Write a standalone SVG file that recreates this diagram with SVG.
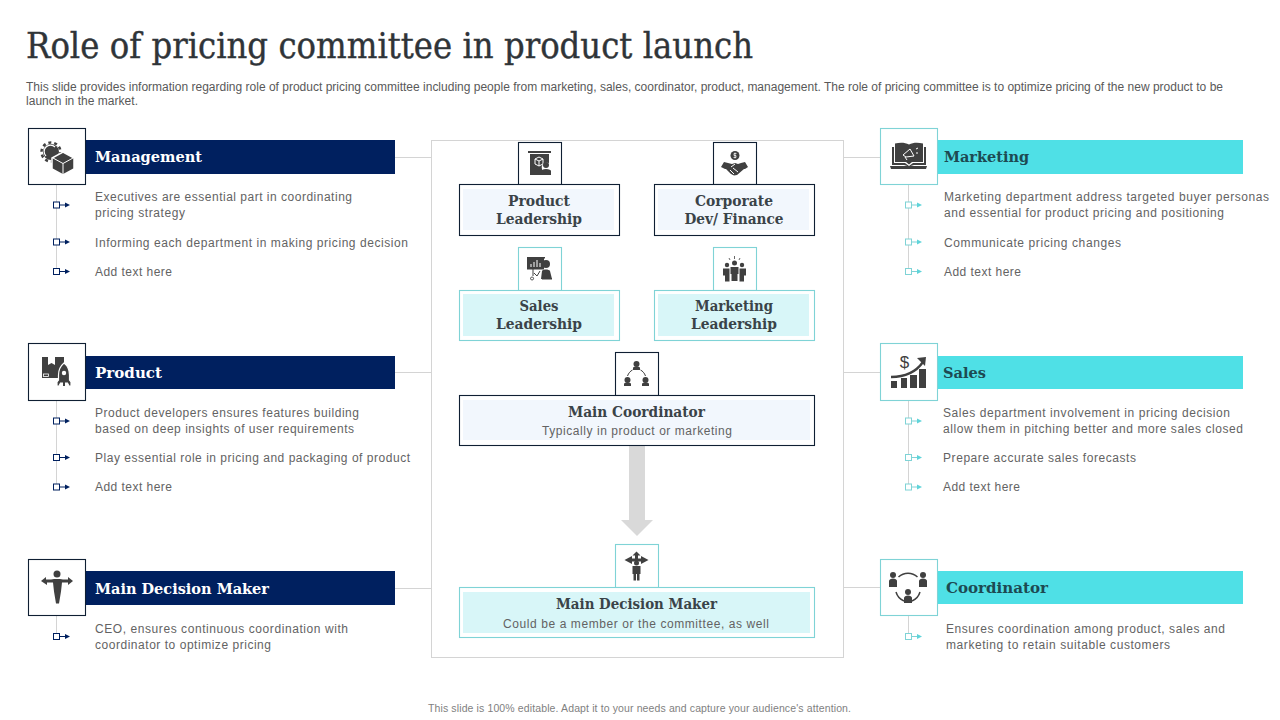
<svg xmlns="http://www.w3.org/2000/svg" xmlns:xlink="http://www.w3.org/1999/xlink" width="1280" height="720" viewBox="0 0 1280 720">
<style>
text{font-family:"Liberation Sans",Arial,sans-serif;fill:#636363;font-size:12px}
.d{fill:#595959}
.h{font-family:"DejaVu Serif","Liberation Serif",serif;font-weight:700;font-size:15px;fill:#fff}
.hc{font-family:"DejaVu Serif","Liberation Serif",serif;font-weight:700;font-size:15px;fill:#1d4a52}
.c{font-family:"DejaVu Serif","Liberation Serif",serif;font-weight:700;font-size:15px;fill:#3a4348;text-anchor:middle}
.s{text-anchor:middle}
.nb{fill:#fff;stroke:#0f1f33;stroke-width:1.1}
.tb{fill:#fff;stroke:#7fd3d6;stroke-width:1.1}
.bar{fill:#00205f}.tbar{fill:#4fe0e6}
.in{fill:#f2f7fd}.tin{fill:#d8f6f8}
.ln{stroke:#d4d4d4;stroke-width:1;fill:none}
.ic{fill:#404040}
.icw{fill:none;stroke:#fff;stroke-width:1}
.icl{fill:none;stroke:#404040;stroke-width:1.5}
.bn{fill:#fff;stroke:#00205f;stroke-width:1}.an{fill:#00205f}.sn{stroke:#00205f;stroke-width:1}
.bt{fill:#fff;stroke:#7fd3d6;stroke-width:1}.at{fill:#5fd4da}.st{stroke:#7fd3d6;stroke-width:1}
</style>
<defs>
<g id="bul-n"><rect class="bn" x="53.500" y="-3" width="6" height="6"/><path class="sn" d="M59.500 0H66"/><path class="an" d="M65-2.500 70 0 65 2.500z"/></g>
<g id="bul-t"><rect class="bt" x="905.500" y="-3" width="6" height="6"/><path class="st" d="M911.500 0H918"/><path class="at" d="M917-2.500 922 0 917 2.500z"/></g>
</defs>
<rect width="1280" height="720" fill="#fff"/>
<text id="title" x="26" y="58" textLength="727" lengthAdjust="spacingAndGlyphs" style="font-family:'DejaVu Serif','Liberation Serif',serif;font-size:35px;fill:#2f3438;stroke:#2f3438;stroke-width:.4">Role of pricing committee in product launch</text>
<text class="d" x="26" y="91" textLength="1197">This slide provides information regarding role of product pricing committee including people from marketing, sales, coordinator, product, management. The role of pricing committee is to optimize pricing of the new product to be</text>
<text class="d" x="26" y="105" textLength="112">launch in the market.</text>

<g id="connectors">
<rect class="ln" x="431.500" y="140.500" width="412" height="517"/>
<path class="ln" d="M395 157.500H431M395 372.500H431M395 588.500H431M844 157.500H880M844 372.500H880M844 587.500H880"/>
<path class="ln" d="M56.500 184V271M56.500 400V487M56.500 616V636M908.500 184V271M908.500 400V487M908.500 616V636"/>
<path id="flow-arrow" fill="#d9d9d9" d="M629 446H645V520H653L637 536 621 520H629z"/>
</g>

<g id="management">
<rect class="bar" x="85" y="140" width="310" height="34"/>
<rect class="nb" x="28.500" y="128.500" width="57" height="56"/>
<circle class="ic" cx="51" cy="152" r="8"/>
<circle cx="51" cy="152" r="9.500" fill="none" stroke="#404040" stroke-width="2.500" stroke-dasharray="3 2.970"/>
<path d="M46 156a6 6 0 0 1 9-9" fill="none" stroke="#fff" stroke-width="1.200"/>
<path class="ic" d="M63 152l11 6v11l-11 6-11-6v-11z" stroke="#fff" stroke-width="1.500"/>
<path class="icw" d="M53 158l10 5.500 10-5.500M63 163.500v11"/>
<text class="h" x="95" y="162" textLength="107" lengthAdjust="spacingAndGlyphs">Management</text>
<use xlink:href="#bul-n" href="#bul-n" y="205"/><use xlink:href="#bul-n" href="#bul-n" y="242"/><use xlink:href="#bul-n" href="#bul-n" y="271.500"/>
<text x="95" y="201" textLength="257">Executives are essential part in coordinating</text>
<text x="95" y="217" textLength="90">pricing strategy</text>
<text x="95" y="247" textLength="313">Informing each department in making pricing decision</text>
<text x="95" y="276" textLength="77">Add text here</text>
</g>

<g id="product">
<rect class="bar" x="85" y="356" width="310" height="33"/>
<rect class="nb" x="28.500" y="343.500" width="57" height="57"/>
<rect class="ic" x="42" y="357" width="22" height="21"/>
<path d="M48 357v8l3.500-2 3.500 2v-8z" fill="#fff"/>
<rect x="43.500" y="374" width="5" height="2.500" fill="none" stroke="#fff" stroke-width=".8"/>
<path class="ic" d="M64 363c4 3 5.500 7 5.500 12v5l1.500 2v4h-2l-1.500-3h-7l-1.500 3h-2v-4l1.500-2v-5c0-5 2-9 5.500-12z" stroke="#fff" stroke-width="1.200"/>
<circle cx="64" cy="373" r="2.200" fill="#fff"/>
<path class="ic" d="M63 382h2v4h-2z"/>
<text class="h" x="95" y="378" textLength="67" lengthAdjust="spacingAndGlyphs">Product</text>
<use xlink:href="#bul-n" href="#bul-n" y="421"/><use xlink:href="#bul-n" href="#bul-n" y="457.500"/><use xlink:href="#bul-n" href="#bul-n" y="487"/>
<text x="95" y="417" textLength="264">Product developers ensures features building</text>
<text x="95" y="433" textLength="259">based on deep insights of user requirements</text>
<text x="95" y="462" textLength="315">Play essential role in pricing and packaging of product</text>
<text x="95" y="491" textLength="77">Add text here</text>
</g>

<g id="decision-maker">
<rect class="bar" x="85" y="571" width="310" height="34"/>
<rect class="nb" x="28.500" y="559.500" width="57" height="56"/>
<circle class="ic" cx="57" cy="574" r="3.500"/>
<path class="ic" d="M41 581l5-4v2.500l5 0 3-.5h6l3 .5 5 0v-2.500l5 4-5 4v-2.500l-6 0-1 9-2 12h-3l-2-12-1-9-6 0v2.500z"/>
<text class="h" x="95" y="594" textLength="174" lengthAdjust="spacingAndGlyphs">Main Decision Maker</text>
<use xlink:href="#bul-n" href="#bul-n" y="636.500"/>
<text x="95" y="633" textLength="253">CEO, ensures continuous coordination with</text>
<text x="95" y="649" textLength="176">coordinator to optimize pricing</text>
</g>

<g id="marketing">
<rect class="tbar" x="937" y="140" width="306" height="34"/>
<rect class="tb" x="880.500" y="128.500" width="57" height="56"/>
<path class="ic" d="M892 147h2v16h11l4 3 4-3h11v-16h2v18h-12l-5 1.500-5-1.500h-12z"/>
<path class="ic" d="M895 143.500c5-1 10-1 14 1 4-2 9-2 14-1v18.500h-11l-3 2.500-3-2.500h-11z"/>
<path class="ic" d="M890 166h37l-1 3h-35z"/>
<path d="M903 155l7-6 4 7-8 1zM905 157l2 3M916 149l2-1M916 153l2 0" fill="none" stroke="#fff" stroke-width="1"/>
<text class="hc" x="944" y="162" textLength="85" lengthAdjust="spacingAndGlyphs">Marketing</text>
<use xlink:href="#bul-t" href="#bul-t" y="205"/><use xlink:href="#bul-t" href="#bul-t" y="242"/><use xlink:href="#bul-t" href="#bul-t" y="271.500"/>
<text x="944" y="201" textLength="325">Marketing department address targeted buyer personas</text>
<text x="944" y="217" textLength="280">and essential for product pricing and positioning</text>
<text x="944" y="247" textLength="177">Communicate pricing changes</text>
<text x="944" y="276" textLength="77">Add text here</text>
</g>

<g id="sales">
<rect class="tbar" x="937" y="356" width="306" height="33"/>
<rect class="tb" x="880.500" y="343.500" width="57" height="57"/>
<text x="904.500" y="368" style="font-family:'Liberation Sans',sans-serif;font-size:17px;fill:#404040" text-anchor="middle">$</text>
<path class="ic" d="M891 381h6v7h-6zM901 378h6v10h-6zM910 375h7v13h-7zM919 369h7v19h-7z"/>
<path d="M891 377c13 0 25-5 32-15" fill="none" stroke="#404040" stroke-width="2.400"/>
<path class="ic" d="M917 358l9-1-1 9z"/>
<text class="hc" x="943" y="378" textLength="43" lengthAdjust="spacingAndGlyphs">Sales</text>
<use xlink:href="#bul-t" href="#bul-t" y="421"/><use xlink:href="#bul-t" href="#bul-t" y="457.500"/><use xlink:href="#bul-t" href="#bul-t" y="487"/>
<text x="943" y="417" textLength="287">Sales department involvement in pricing decision</text>
<text x="943" y="433" textLength="300">allow them in pitching better and more sales closed</text>
<text x="943" y="462" textLength="193">Prepare accurate sales forecasts</text>
<text x="943" y="491" textLength="77">Add text here</text>
</g>

<g id="coordinator">
<rect class="tbar" x="937" y="571" width="306" height="33"/>
<rect class="tb" x="880.500" y="559.500" width="57" height="56"/>
<g class="ic"><circle cx="893" cy="575" r="3"/><path d="M889 587v-6c0-1.500 2-2.500 4-2.500s4 1 4 2.500v6z"/><circle cx="923" cy="575" r="3"/><path d="M919 587v-6c0-1.500 2-2.500 4-2.500s4 1 4 2.500v6z"/><circle cx="908" cy="592" r="3"/><path d="M904 603v-5c0-1.500 2-2.500 4-2.500s4 1 4 2.500v5z"/></g>
<path class="icl" d="M898.500 577a14 14 0 0 1 19 0M904 601a14 14 0 0 1-8-9M912 601a14 14 0 0 0 8-9"/>
<text class="hc" x="946" y="593" textLength="102" lengthAdjust="spacingAndGlyphs">Coordinator</text>
<use xlink:href="#bul-t" href="#bul-t" y="636.500"/>
<text x="946" y="633" textLength="279">Ensures coordination among product, sales and</text>
<text x="946" y="649" textLength="224">marketing to retain suitable customers</text>
</g>

<g id="product-leadership">
<rect class="nb" x="518.500" y="142.500" width="43" height="42"/>
<rect class="nb" x="459.500" y="184.500" width="160" height="51"/>
<rect class="in" x="463" y="189" width="151" height="41"/>
<path class="ic" d="M528 151h23v2h-23zM530 154h19v9a5 5 0 0 0-7 6v6h-12z"/>
<path class="icw" d="M535 159l4-2 4 2v5l-4 2-4-2zM535 159l4 2 4-2M539 161v5"/>
<circle class="ic" cx="546" cy="165" r="3"/><path class="ic" d="M541 175v-4c0-1 2-2 5-2s5 1 5 2v4z"/>
<text class="c" x="539" y="206" textLength="62" lengthAdjust="spacingAndGlyphs">Product</text>
<text class="c" x="539" y="224" textLength="86" lengthAdjust="spacingAndGlyphs">Leadership</text>
</g>

<g id="corporate-finance">
<rect class="nb" x="713.500" y="142.500" width="43" height="42"/>
<rect class="nb" x="654.500" y="184.500" width="160" height="51"/>
<rect class="in" x="658" y="189" width="151" height="41"/>
<circle class="ic" cx="735" cy="155.500" r="4.500"/>
<path d="M736.500 153.500h-2.500v2h2v2h-2.500M735 152.500v6" fill="none" stroke="#fff" stroke-width=".7"/>
<path class="ic" d="M721 167l3-5 4 1 4 1 3-1 3 1 3-1 4-1 3 5-3 2-1 0-7 6-3 .5-3-1.500-5-5-1 0z"/>
<path class="icw" d="M730 170l4 4M733 168l5 4M735 164l-4 3"/>
<text class="c" x="734" y="206" textLength="78" lengthAdjust="spacingAndGlyphs">Corporate</text>
<text class="c" x="734" y="224" textLength="99" lengthAdjust="spacingAndGlyphs">Dev/ Finance</text>
</g>

<g id="sales-leadership">
<rect class="tb" x="518.500" y="247.500" width="43" height="43"/>
<rect class="tb" x="459.500" y="290.500" width="160" height="50"/>
<rect class="tin" x="463" y="294" width="151" height="42"/>
<path class="ic" d="M527 257h18v1.500h-1v11h-17z"/>
<path class="icw" d="M531 267v-3M534 267v-5M537 267v-7M540 267v-4"/>
<circle class="ic" cx="546" cy="264" r="4"/><path class="ic" d="M541 279l1-8c1-2 7-2 8 0l2 8zM542 278h10v1.500h-10z"/>
<path d="M533 269v7M532 277a1.500 1.500 0 1 0 .1 0M534 273l3 3 3-5" fill="none" stroke="#404040" stroke-width="1"/>
<text class="c" x="539" y="311" textLength="39" lengthAdjust="spacingAndGlyphs">Sales</text>
<text class="c" x="539" y="329" textLength="86" lengthAdjust="spacingAndGlyphs">Leadership</text>
</g>

<g id="marketing-leadership">
<rect class="tb" x="713.500" y="247.500" width="43" height="43"/>
<rect class="tb" x="654.500" y="290.500" width="160" height="50"/>
<rect class="tin" x="658" y="294" width="151" height="42"/>
<g class="ic"><circle cx="734.500" cy="263" r="2.500"/><path d="M730.500 267h8v7h-1v7h-6v-7h-1z"/><circle cx="727" cy="265" r="2.200"/><path d="M723 268.500h6.500v13h-4.500v-6h-2z"/><circle cx="742" cy="265" r="2.200"/><path d="M739.500 268.500h6.500v7h-2v6h-4.500z"/></g>
<path d="M734.500 256v3M729 258l1 2M740 258l-1 2" stroke="#404040" stroke-width=".8"/>
<text class="c" x="734" y="311" textLength="78" lengthAdjust="spacingAndGlyphs">Marketing</text>
<text class="c" x="734" y="329" textLength="86" lengthAdjust="spacingAndGlyphs">Leadership</text>
</g>

<g id="main-coordinator">
<rect class="nb" x="615.500" y="352.500" width="43" height="43"/>
<rect class="nb" x="459.500" y="395.500" width="355" height="50"/>
<rect class="in" x="463" y="400" width="347" height="40"/>
<g class="ic"><circle cx="636.500" cy="364" r="3"/><path d="M633 370v-2c0-1 1.500-1.500 3.500-1.500s3.500.5 3.500 1.500v2z"/><circle cx="627.500" cy="380" r="3"/><path d="M624 386v-2c0-1 1.500-1.500 3.500-1.500s3.500.5 3.500 1.500v2z"/><circle cx="645.500" cy="380" r="3"/><path d="M642 386v-2c0-1 1.500-1.500 3.500-1.500s3.500.5 3.500 1.500v2z"/></g>
<path d="M627.500 376c1-3 3-5 5-6M645.500 376c-1-3-3-5-5-6" fill="none" stroke="#404040" stroke-width="1"/>
<text class="c" x="636.500" y="417" textLength="137" lengthAdjust="spacingAndGlyphs">Main Coordinator</text>
<text class="s" x="637" y="435" textLength="190">Typically in product or marketing</text>
</g>

<g id="main-decision-maker">
<rect class="tb" x="615.500" y="544.500" width="43" height="43"/>
<rect class="tb" x="459.500" y="587.500" width="355" height="50"/>
<rect class="tin" x="463" y="592" width="347" height="41"/>
<g class="ic"><path d="M636.500 551.500l4 4h-2.500v3l3 0v-2.500l7.500 4-7.500 4v-2.500h-9v2.500l-7.500-4 7.500-4v2.500l3 0v-3h-2.500z"/><circle cx="636.500" cy="563" r="2.500"/><path d="M632.500 566h8v8h-1v6.500h-2.500v-6.500h-1v6.500h-2.500v-6.500h-1z"/></g>
<text class="c" x="636.500" y="609" textLength="161" lengthAdjust="spacingAndGlyphs">Main Decision Maker</text>
<text class="s" x="636" y="628" textLength="266">Could be a member or the committee, as well</text>
</g>

<text id="footer" x="428" y="712" textLength="423" style="font-size:10.500px;fill:#7f7f7f">This slide is 100% editable. Adapt it to your needs and capture your audience's attention.</text>
</svg>
